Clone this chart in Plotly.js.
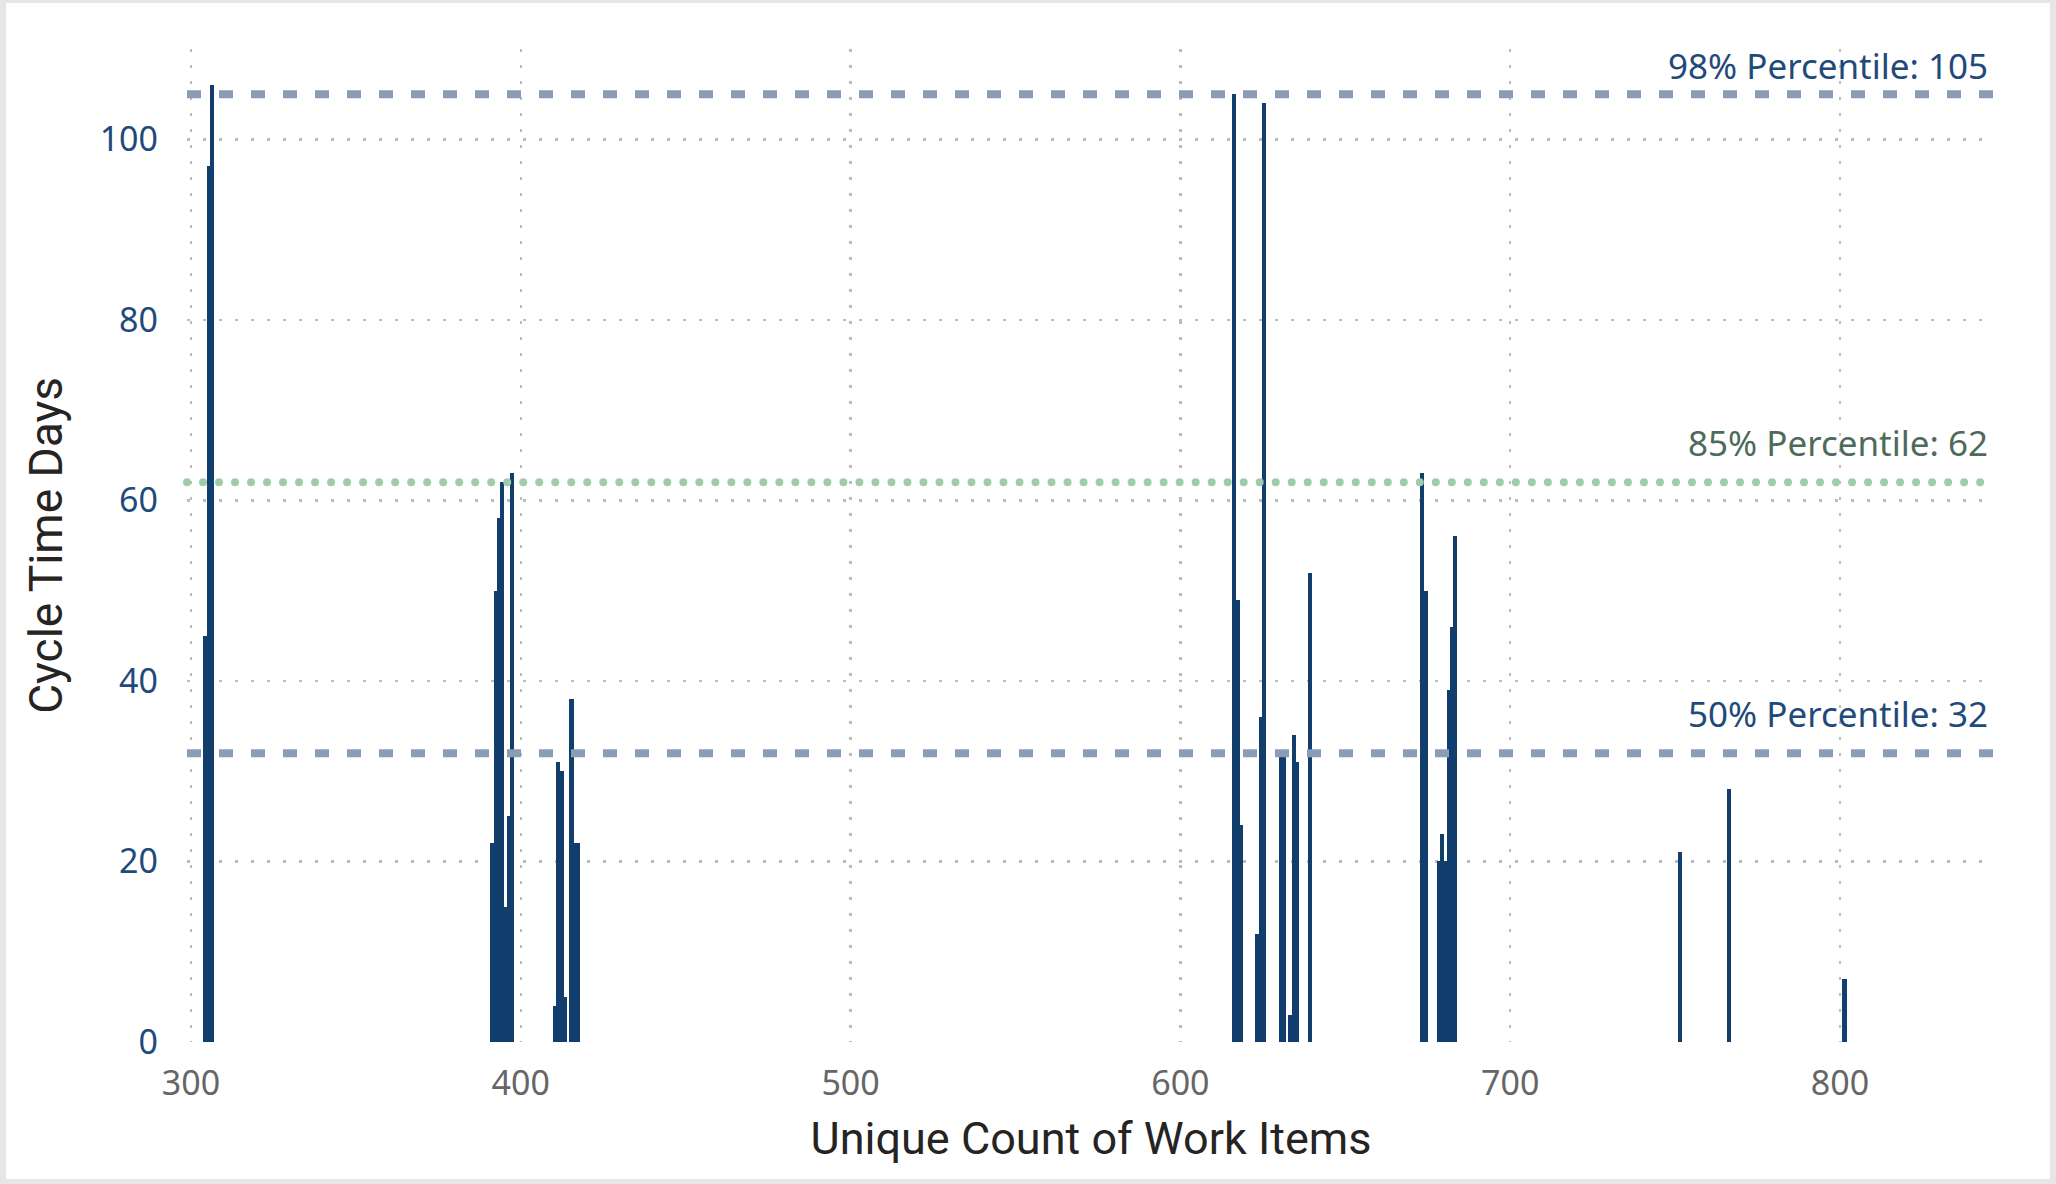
<!DOCTYPE html>
<html>
<head>
<meta charset="utf-8">
<script src="https://cdn.plot.ly/plotly-3.0.1.min.js"></script>
<style>
  html, body { margin: 0; padding: 0; background: #e6e6e6; width: 2056px; height: 1184px; overflow: hidden; }
  #chart { position: absolute; left: 6px; top: 3px; width: 2044px; height: 1176px; background: #ffffff; }
</style>
</head>
<body>
<div id="chart"></div>
<script>
// ---- data ----
const workItemCounts = [304, 305, 306,
  391, 392, 393, 394, 395, 396, 397,
  410, 411, 412, 413, 415, 416, 417,
  616, 617, 618, 623, 624, 625, 630, 631, 633, 634, 635, 639,
  673, 674, 678, 679, 680, 681, 682, 683,
  751, 766, 801];
const cycleTimeDays = [45, 97, 106,
  22, 50, 58, 62, 15, 25, 63,
  4, 31, 30, 5, 38, 22, 22,
  105, 49, 24, 12, 36, 104, 32, 32, 3, 34, 31, 52,
  63, 50, 20, 23, 20, 39, 46, 56,
  21, 28, 7];
const percentileNames = ["98% Percentile", "85% Percentile", "50% Percentile"];
const percentileValues = [105, 62, 32];
const xTickValues = [300, 400, 500, 600, 700, 800];
const yTickValues = [0, 20, 40, 60, 80, 100];

// ---- styling ----
const xRange = [298.8, 847];
const yRange = [0, 110];
const margin = { l: 181, r: 55, t: 46, b: 137 };
const plotHeight = 1176 - margin.t - margin.b;
const pxPerUnit = plotHeight / (yRange[1] - yRange[0]);

const lineStyles = [
  { color: "#8a9db6", width: 8, dash: "14px,18px", text: "#1f4a7a" },
  { color: "#9fcdab", width: 8, dash: "0px,16px", text: "#4d6a5b" },
  { color: "#8a9db6", width: 8, dash: "14px,18px", text: "#1f4a7a" }
];

const shapes = percentileValues.map((v, i) => ({
  type: "line", xref: "paper", yref: "y",
  x0: 0, x1: 1, y0: v, y1: v,
  layer: "above",
  line: { color: lineStyles[i].color, width: lineStyles[i].width, dash: lineStyles[i].dash }
}));

const annotations = percentileValues.map((v, i) => ({
  xref: "paper", yref: "y", x: 1, y: v,
  xanchor: "right", yanchor: "middle",
  xshift: -5,
  yshift: Math.min(40, (yRange[1] - v) * pxPerUnit - 16),
  showarrow: false,
  text: percentileNames[i] + ": " + v,
  font: { family: "Noto Sans, Open Sans, sans-serif", size: 35, color: lineStyles[i].text }
}));

const trace = {
  type: "bar",
  x: workItemCounts,
  y: cycleTimeDays,
  width: 1.25,
  offset: -0.25,
  marker: { color: "#123e6e", line: { width: 0 } },
  hoverinfo: "x+y"
};

const layout = {
  width: 2044, height: 1176,
  margin: margin,
  paper_bgcolor: "#ffffff",
  plot_bgcolor: "#ffffff",
  showlegend: false,
  bargap: 0,
  barmode: "overlay",
  xaxis: {
    range: xRange,
    tickvals: xTickValues,
    ticktext: xTickValues.map(String),
    showgrid: true,
    gridcolor: "#bcbcbc",
    gridwidth: 2.5,
    griddash: "2.5px,13.5px",
    zeroline: false,
    showline: false,
    ticks: "",
    ticklabelstandoff: 18,
    tickfont: { family: "Noto Sans, Open Sans, sans-serif", size: 34, color: "#666666" },
    title: {
      text: "Unique Count of Work Items",
      font: { family: "Roboto, sans-serif", size: 45, color: "#252423" },
      standoff: 18
    }
  },
  yaxis: {
    range: yRange,
    tickvals: yTickValues,
    ticktext: yTickValues.map(String),
    showgrid: true,
    gridcolor: "#bcbcbc",
    gridwidth: 2.5,
    griddash: "2.5px,13.5px",
    zeroline: false,
    showline: false,
    ticks: "",
    ticklabelstandoff: 28,
    tickfont: { family: "Noto Sans, Open Sans, sans-serif", size: 34, color: "#1f4a7a" },
    title: {
      text: "Cycle Time Days",
      font: { family: "Roboto, sans-serif", size: 46, color: "#252423" },
      standoff: 22
    }
  },
  shapes: shapes,
  annotations: annotations
};

Plotly.newPlot("chart", [trace], layout, { displayModeBar: false, staticPlot: true }).then(() => {
  // round caps for the dotted 85% line
  document.querySelectorAll(".shapelayer path").forEach(p => {
    const s = (p.style.stroke || p.getAttribute("stroke") || "").toLowerCase();
    if (s.indexOf("159, 205, 171") >= 0 || s === "#9fcdab") {
      p.style.strokeLinecap = "round";
      p.style.strokeDasharray = "0.01px,16px";
    }
  });
});
</script>
</body>
</html>
